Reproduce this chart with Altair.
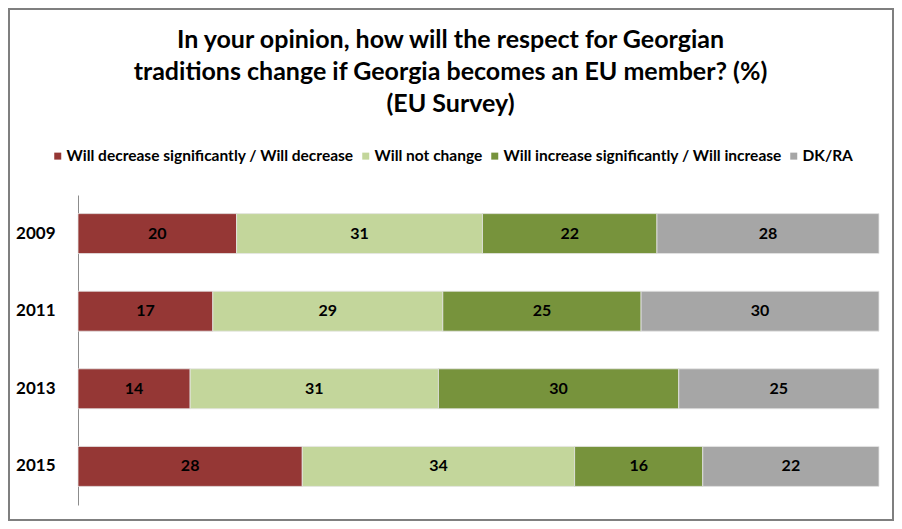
import altair as alt
import pandas as pd

years = ["2009", "2011", "2013", "2015"]
categories = [
    "Will decrease significantly / Will decrease",
    "Will not change",
    "Will increase significantly / Will increase",
    "DK/RA",
]
decrease = [20, 17, 14, 28]
no_change = [31, 29, 31, 34]
increase = [22, 25, 30, 16]
dk_ra = [28, 30, 25, 22]
colors = ["#953735", "#C3D69B", "#77933C", "#A6A6A6"]
title_lines = [
    "In your opinion, how will the respect for Georgian",
    "traditions change if Georgia becomes an EU member? (%)",
    "(EU Survey)",
]

series = [decrease, no_change, increase, dk_ra]
rows = []
for ci, (cat, vals) in enumerate(zip(categories, series)):
    for y, v in zip(years, vals):
        rows.append({"year": y, "category": cat, "value": v, "order": ci})
df = pd.DataFrame(rows)

W, H = 801, 310
PAD = {"left": 70, "top": 187, "right": 15, "bottom": 16}
FONT = "Lato"

base = alt.Chart(df).transform_stack(
    stack="value",
    groupby=["year"],
    as_=["x0", "x1"],
    offset="normalize",
    sort=[alt.SortField("order", order="ascending")],
).transform_calculate(mid="(datum.x0 + datum.x1) / 2")

yenc = alt.Y(
    "year:N",
    sort=years,
    scale=alt.Scale(paddingInner=0.485, paddingOuter=0.24),
    axis=alt.Axis(
        title=None,
        ticks=False,
        domainColor="#8c8c8c",
        domainWidth=1,
        labelFont=FONT,
        labelFontWeight="bold",
        labelFontSize=17,
        labelColor="black",
        labelPadding=23,
    ),
)
xscale = alt.Scale(domain=[0, 1], nice=False, zero=True)

bars = base.mark_bar(stroke="#e6e6e6", strokeWidth=0.8).encode(
    x=alt.X("x0:Q", scale=xscale, axis=None),
    x2="x1:Q",
    y=yenc,
    color=alt.Color(
        "category:N",
        sort=categories,
        scale=alt.Scale(domain=categories, range=colors),
        legend=alt.Legend(
            title=None,
            orient="none",
            direction="horizontal",
            legendX=-28,
            legendY=-47,
            symbolType="square",
            symbolSize=49,
            symbolStrokeWidth=0,
            labelFont=FONT,
            labelFontWeight="bold",
            labelFontSize=15.5,
            labelColor="black",
            labelOffset=1,
            labelLimit=500,
            columnPadding=4,
            columns=4,
        ),
    ),
    order=alt.Order("order:Q"),
)

labels = base.mark_text(
    font=FONT, fontWeight="bold", fontSize=16, color="black", baseline="middle"
).encode(
    x=alt.X("mid:Q", scale=xscale, axis=None),
    y=alt.Y("year:N", sort=years),
    text="value:Q",
)

one = pd.DataFrame({"k": [0]})
frame = alt.Chart(one).mark_rect(
    fill=None, stroke="#7f7f7f", strokeWidth=2
).encode(
    x=alt.value(-PAD["left"] + 1),
    x2=alt.value(W + PAD["right"] - 1),
    y=alt.value(-PAD["top"] + 1),
    y2=alt.value(H + PAD["bottom"] - 1),
)

title = alt.Chart(one).mark_text(
    text=title_lines,
    font=FONT,
    fontSize=25,
    fontWeight="bold",
    color="black",
    align="center",
    baseline="middle",
    lineHeight=32,
).encode(x=alt.value(W / 2 - 28), y=alt.value(-155))

chart = alt.layer(bars, labels, frame, title).properties(
    width=W,
    height=H,
    autosize=alt.AutoSizeParams(type="none"),
    padding=PAD,
    background="white",
).configure_view(stroke="transparent", strokeWidth=0)

chart.save("out.html", embed_options={"renderer": "svg", "actions": False})
